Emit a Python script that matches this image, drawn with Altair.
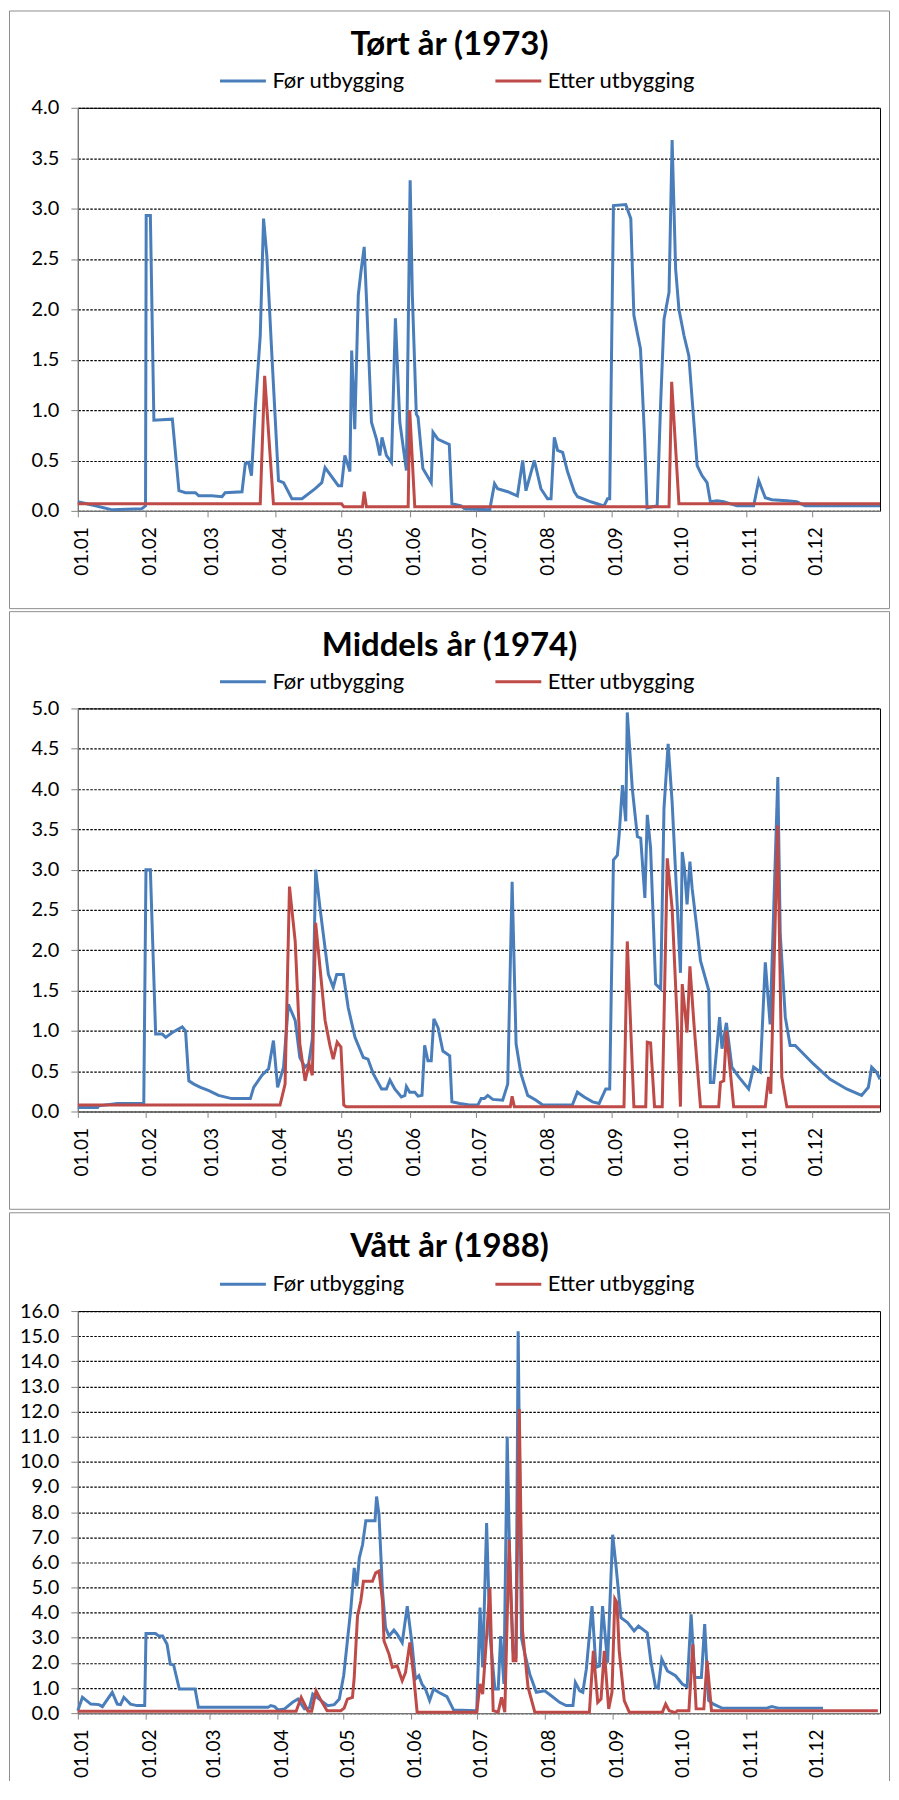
import altair as alt
import pandas as pd
from datetime import datetime, timedelta

BLUE = "#4A7EBB"
RED = "#BE4B48"
SERIES = ["Før utbygging", "Etter utbygging"]
FONT = "Lato"

# ---------------- Panel 1: Tørt år (1973) ----------------
p1_blue_day = [0, 8, 15.7, 29, 30.8, 31.1, 33, 34.6, 43, 46, 49, 53.5, 55, 61, 65.6, 67, 74.7, 76.2, 77.7, 79,
               80.7, 83, 84.5, 86, 88.3, 91.3, 93.6, 97.4, 102, 108, 111, 112.5, 118.5, 120, 121.5, 123.8, 124.6,
               126, 127.6, 128.8, 130.3, 131.4, 133.6, 135.9, 137.4, 138.4, 140.4, 142.7, 144.5, 146.5, 149.5,
               151.2, 152.2, 154, 154.8, 157, 160.8, 161.6, 163.9, 169, 170.2, 174.4, 176, 187.4, 189.6, 191,
               195.6, 200, 202.4, 203.9, 207.7, 210.7, 213.7, 215.3, 216.8, 218.3, 220.6, 222.8, 225.9, 227.4,
               233.4, 239.4, 241, 242, 243.7, 249.3, 251.6, 253, 254.6, 256, 257.9, 259, 263.6, 265.2, 266.7,
               269, 270.4, 272, 273.5, 275.8, 278, 281.8, 284, 286.3, 287.8, 290.9, 293.9, 299.9, 307.5, 309.8,
               312.8, 315.8, 322.6, 327.1, 330.9, 365]
p1_blue_val = [0.09, 0.05, 0.01, 0.02, 0.05, 2.93, 2.93, 0.9, 0.91, 0.2, 0.18, 0.18, 0.15, 0.15, 0.14, 0.18, 0.19,
               0.47, 0.48, 0.35, 1.01, 1.74, 2.9, 2.53, 1.54, 0.3, 0.28, 0.12, 0.12, 0.22, 0.28, 0.43, 0.25, 0.25,
               0.55, 0.39, 1.59, 0.81, 2.14, 2.37, 2.62, 2.07, 0.88, 0.71, 0.55, 0.73, 0.55, 0.48, 1.91, 0.88, 0.4,
               3.28, 2.14, 0.96, 0.93, 0.42, 0.28, 0.78, 0.71, 0.66, 0.07, 0.05, 0.02, 0.01, 0.27, 0.22, 0.19,
               0.15, 0.5, 0.2, 0.5, 0.22, 0.12, 0.12, 0.73, 0.6, 0.58, 0.39, 0.19, 0.14, 0.09, 0.05, 0.12, 0.12,
               3.03, 3.04, 2.9, 1.94, 1.76, 1.61, 0.71, 0.03, 0.05, 1.08, 1.9, 2.17, 3.68, 2.4, 2.0, 1.74, 1.54,
               0.45, 0.35, 0.28, 0.09, 0.1, 0.09, 0.05, 0.05, 0.3, 0.13, 0.11, 0.1, 0.09, 0.05, 0.05]
p1_red_day = [0, 83, 85, 89, 120, 121, 129.5, 130.3, 131.3, 150.3, 151, 153.3, 269, 270.2, 273.5, 365]
p1_red_val = [0.07, 0.07, 1.34, 0.07, 0.07, 0.04, 0.04, 0.19, 0.04, 0.04, 1.0, 0.04, 0.04, 1.28, 0.07, 0.07]

# ---------------- Panel 2: Middels år (1974) ----------------
p2_blue_day = [0, 9, 9.5, 18, 30, 31, 33, 35.4, 38.4, 40, 43, 47.5, 49, 50.5, 52.8, 55.8, 59.6, 64, 70, 78.5, 80,
               83.8, 86.8, 89, 90.9, 93.6, 95.8, 98.9, 101, 103.4, 105, 106.7, 108.2, 110.2, 114, 116.2, 117.8,
               120.8, 123, 126.1, 129.9, 132, 134.4, 138.2, 140.4, 142, 144.2, 147.2, 148.8, 149.5, 151, 153.3,
               154.8, 156.6, 157.8, 159.3, 160.8, 162, 163.9, 166.1, 169.2, 170.2, 173.7, 178.2, 182, 183.5, 185,
               186.5, 188.8, 193.3, 195.6, 197.6, 199.4, 201.6, 204.7, 208.5, 211.5, 225, 227.3, 230.4, 234.2,
               237.2, 240.2, 242, 243.7, 245.5, 246.3, 247.8, 249.3, 250, 252.3, 254.6, 256.1, 258, 259.1, 260.6,
               262.9, 265.2, 266.7, 268.6, 270.4, 272.7, 274.2, 275, 276, 277.2, 278.5, 279.5, 281.8, 283.3,
               287.1, 287.8, 289.3, 292, 293.1, 295.1, 297.6, 300.7, 305.2, 307.5, 310.5, 312.8, 315, 318.5,
               319.6, 321.9, 324.1, 326.4, 334.7, 342.3, 349.8, 356.6, 359.7, 361.2, 363.4, 365]
p2_blue_val = [0.05, 0.05, 0.07, 0.1, 0.1, 3.0, 3.0, 0.96, 0.96, 0.92, 0.98, 1.05, 1.0, 0.38, 0.34, 0.3, 0.26, 0.2,
               0.16, 0.16, 0.3, 0.45, 0.53, 0.88, 0.3, 0.55, 1.33, 1.13, 0.67, 0.55, 0.59, 0.9, 3.0, 2.52, 1.7,
               1.54, 1.7, 1.7, 1.29, 0.92, 0.67, 0.65, 0.47, 0.28, 0.28, 0.39, 0.28, 0.18, 0.2, 0.31, 0.24, 0.24,
               0.19, 0.2, 0.82, 0.63, 0.63, 1.15, 1.04, 0.75, 0.69, 0.12, 0.1, 0.08, 0.08, 0.16, 0.16, 0.2, 0.15,
               0.14, 0.34, 2.85, 0.84, 0.47, 0.2, 0.14, 0.08, 0.08, 0.24, 0.18, 0.12, 0.1, 0.28, 0.28, 3.12, 3.18,
               3.43, 4.05, 3.6, 4.95, 4.0, 3.41, 3.39, 2.65, 3.68, 3.27, 1.58, 1.52, 3.76, 4.56, 3.84, 2.57, 1.72,
               3.22, 3.02, 2.57, 3.1, 2.77, 2.24, 1.87, 1.5, 0.36, 0.36, 1.17, 0.78, 1.1, 0.55, 0.43, 0.28, 0.55,
               0.49, 1.85, 1.08, 4.15, 2.2, 1.17, 0.82, 0.82, 0.59, 0.4, 0.28, 0.2, 0.3, 0.55, 0.49, 0.4]
p2_red_day = [0, 92, 94.3, 96.3, 98.9, 101, 103.4, 105.2, 106.7, 108.2, 110.2, 112.5, 114.7, 116.2, 118, 119.7,
              121, 122, 196.8, 197.6, 198.6, 248.5, 250, 253, 258.4, 259.1, 260.6, 262.4, 265.9, 268.2, 270.4,
              272.7, 274.2, 275, 277.2, 278.5, 280.3, 283.3, 291.6, 292.4, 293.9, 295.1, 298.4, 312.8, 314.3,
              315.3, 318.4, 320.3, 322.6, 365]
p2_red_val = [0.08, 0.08, 0.34, 2.79, 2.11, 0.84, 0.38, 0.59, 0.45, 2.34, 1.78, 1.13, 0.82, 0.65, 0.86, 0.8, 0.08,
              0.06, 0.06, 0.19, 0.06, 0.06, 2.11, 0.06, 0.06, 0.86, 0.85, 0.06, 0.06, 3.14, 2.52, 1.13, 0.06,
              1.58, 0.98, 1.8, 1.1, 0.06, 0.06, 0.36, 0.38, 1.0, 0.06, 0.06, 0.43, 0.22, 3.55, 0.43, 0.06, 0.06]

# ---------------- Panel 3: Vått år (1988) ----------------
p3_blue_day = [0, 2.1, 5.9, 9.7, 11.2, 15.7, 18, 19.5, 21, 24, 27, 30.5, 31.1, 35.4, 36.9, 38.7, 40.7, 42.2, 43.7,
               46.3, 53.5, 55, 86.8, 88, 89.8, 91.3, 94.3, 98, 100.4, 103.4, 105.7, 107.2, 111, 114, 117, 119.3,
               121.3, 124.6, 126.1, 127.3, 128.4, 129.9, 131.4, 135.6, 136.3, 137.4, 139, 140.4, 142, 144.2,
               145.7, 148, 150.3, 152.5, 154, 155.6, 157, 158.6, 160.5, 162.3, 164.6, 168.4, 171.4, 182, 183.5,
               184.7, 186.5, 188, 190.3, 191.8, 192.9, 194.4, 195.9, 197.1, 198.6, 199.9, 200.9, 202.4, 204,
               206.2, 209.2, 213, 216, 219.8, 222.8, 225.9, 227, 229, 230.4, 232, 234.6, 236.4, 238, 239.4, 241.7,
               244, 245.5, 247.8, 250.8, 253.8, 255.8, 259.8, 261.4, 263.6, 264.8, 266.4, 269, 272.7, 275.8, 278,
               279.8, 281.5, 284.5, 286, 287.8, 290, 293.9, 314.3, 316.6, 319.6, 340]
p3_blue_val = [0.1, 0.63, 0.36, 0.34, 0.26, 0.83, 0.36, 0.34, 0.63, 0.36, 0.3, 0.3, 3.17, 3.17, 3.07, 3.07, 2.74,
               1.95, 1.92, 0.96, 0.96, 0.23, 0.23, 0.3, 0.26, 0.13, 0.17, 0.43, 0.56, 0.17, 0.21, 0.76, 0.5, 0.3,
               0.34, 0.56, 1.5, 4.2, 5.78, 5.05, 6.17, 6.7, 7.66, 7.66, 8.62, 7.9, 4.86, 3.4, 3.07, 3.3, 3.14,
               2.81, 4.26, 2.74, 1.36, 1.49, 1.16, 0.96, 0.5, 0.96, 0.83, 0.66, 0.13, 0.1, 4.2, 1.82, 7.56, 3.14,
               0.96, 0.96, 3.07, 1.16, 11.0, 5.78, 2.48, 2.34, 15.2, 3.0, 2.34, 1.55, 0.83, 0.89, 0.69, 0.43, 0.3,
               0.3, 1.22, 0.89, 0.83, 1.75, 4.26, 1.82, 1.88, 4.26, 2.01, 7.1, 5.9, 3.8, 3.6, 3.27, 3.47, 3.2,
               2.08, 1.03, 1.0, 2.15, 1.68, 1.49, 1.16, 1.05, 3.93, 1.42, 1.42, 3.54, 0.5, 0.36, 0.2, 0.2, 0.26,
               0.2, 0.2]
p3_red_day = [0, 99.6, 101.9, 105, 106.7, 108.7, 111, 113.7, 120, 121.5, 123, 125.3, 126.1, 127.6, 129.1, 130.3,
              134.4, 135.9, 137.4, 139, 139.7, 142, 143.5, 145.7, 148, 149.5, 151.5, 153.3, 154.8, 182, 183.5,
              184.7, 188, 189.5, 191.8, 193.3, 194.8, 196.8, 198.6, 199.9, 201.4, 202.9, 205.4, 208.5, 233.4,
              235.2, 237.2, 238.7, 240.2, 242.2, 243.7, 245, 246, 247, 249.3, 251.6, 266.7, 268.2, 269.8, 272.7,
              273.5, 278.8, 280.6, 282.1, 285.6, 287.1, 289.1, 365]
p3_red_val = [0.08, 0.08, 0.63, 0.08, 0.08, 0.89, 0.5, 0.1, 0.1, 0.2, 0.56, 0.63, 1.42, 3.87, 4.46, 5.25, 5.25,
              5.58, 5.65, 4.46, 2.87, 2.34, 1.82, 1.88, 1.29, 1.62, 2.81, 1.42, 0.04, 0.04, 1.16, 0.76, 4.99, 0.1,
              0.04, 0.63, 0.04, 6.9, 2.08, 2.08, 12.1, 3.27, 1.03, 0.04, 0.04, 2.48, 0.43, 0.56, 2.48, 0.17, 0.83,
              4.55, 4.4, 2.48, 0.5, 0.04, 0.04, 0.36, 0.1, 0.02, 0.1, 0.1, 2.74, 0.17, 0.17, 2.08, 0.1, 0.1]

TITLES = ["Tørt år (1973)", "Middels år (1974)", "Vått år (1988)"]
YEARS = [1973, 1974, 1988]
YMAX = [4.0, 5.0, 16.0]
YSTEP = [0.5, 0.5, 1.0]
MONTHS = list(range(1, 13))


def make_df(year, bd, bv, rd, rv):
    rows = []
    base = datetime(year, 1, 1)
    for d, v in zip(bd, bv):
        rows.append({"date": (base + timedelta(days=d)).strftime("%Y-%m-%dT%H:%M:%S"), "value": v, "series": SERIES[0]})
    for d, v in zip(rd, rv):
        rows.append({"date": (base + timedelta(days=d)).strftime("%Y-%m-%dT%H:%M:%S"), "value": v, "series": SERIES[1]})
    return pd.DataFrame(rows)


dfs = [
    make_df(1973, p1_blue_day, p1_blue_val, p1_red_day, p1_red_val),
    make_df(1974, p2_blue_day, p2_blue_val, p2_red_day, p2_red_val),
    make_df(1988, p3_blue_day, p3_blue_val, p3_red_day, p3_red_val),
]

W = 804
HEIGHTS = [404, 404, 403]
# panel frame: top, bottom (None = runs off the page), relative to plot origin
FRAMES = [(-97.0, 502.0), (-97.0, 502.0), (-98.5, None)]
FL, FR = -68.5, 813.5
FRAME_COLOR = "#8e8e8e"


def frame_layers(ftop, fbot):
    one = pd.DataFrame({"k": [0]})
    layers = [
        alt.Chart(one).mark_rule(color=FRAME_COLOR, strokeWidth=1).encode(
            x=alt.value(FL), x2=alt.value(FR), y=alt.value(ftop)),
    ]
    bottom = fbot if fbot is not None else 471.0
    layers.append(alt.Chart(one).mark_rule(color=FRAME_COLOR, strokeWidth=1).encode(
        x=alt.value(FL), y=alt.value(ftop), y2=alt.value(bottom)))
    layers.append(alt.Chart(one).mark_rule(color=FRAME_COLOR, strokeWidth=1).encode(
        x=alt.value(FR), y=alt.value(ftop), y2=alt.value(bottom)))
    if fbot is not None:
        layers.append(alt.Chart(one).mark_rule(color=FRAME_COLOR, strokeWidth=1).encode(
            x=alt.value(FL), x2=alt.value(FR), y=alt.value(fbot)))
    return layers


def panel(i):
    year = YEARS[i]
    ymax = YMAX[i]
    step = YSTEP[i]
    n = int(round(ymax / step))
    yvals = [round(k * step, 2) for k in range(n + 1)]
    xvals = [alt.DateTime(year=year, month=m, date=1) for m in MONTHS]

    x = alt.X("date:T",
              scale=alt.Scale(domain=[alt.DateTime(year=year, month=1, date=1),
                                      alt.DateTime(year=year + 1, month=1, date=1)]),
              axis=alt.Axis(values=xvals, format="%d.%m", labelAngle=270, labelFontSize=19, labelFont=FONT,
                            labelColor="black", labelPadding=10, labelOffset=4, tickSize=6,
                            tickColor="#868686", domainColor="#868686", grid=False, labelFlush=False,
                            labelOverlap=False),
              title=None)
    y = alt.Y("value:Q",
              scale=alt.Scale(domain=[0, ymax], nice=False),
              axis=alt.Axis(values=yvals, format=".1f", labelFontSize=20, labelFont=FONT, labelColor="black",
                            labelPadding=12, tickSize=7, tickColor="#868686", domainColor="#868686",
                            grid=True, gridDash=[2.5, 1.5], gridColor="black", gridWidth=1.2, gridOpacity=1),
              title=None)
    color = alt.Color("series:N", scale=alt.Scale(domain=SERIES, range=[BLUE, RED]),
                      legend=alt.Legend(orient="none", legendX=141, legendY=-51.5, direction="horizontal",
                                        title=None, symbolType="stroke", symbolSize=2116, symbolStrokeWidth=3,
                                        labelFontSize=22, labelFont=FONT, labelColor="black", columnPadding=84,
                                        labelOffset=5, padding=0))
    base = alt.Chart(dfs[i])
    blue = base.transform_filter(alt.datum.series == SERIES[0]).mark_line(strokeWidth=3).encode(x=x, y=y, color=color)
    red = base.transform_filter(alt.datum.series == SERIES[1]).mark_line(strokeWidth=3).encode(x=x, y=y, color=color)

    ftop, fbot = FRAMES[i]
    return alt.layer(*frame_layers(ftop, fbot), blue, red).properties(
        width=W, height=HEIGHTS[i],
        title=alt.TitleParams(TITLES[i], fontSize=33, font=FONT, fontWeight="bold", anchor="middle",
                              frame="bounds", offset=-52, color="black"))


chart = alt.vconcat(panel(0), panel(1), panel(2), spacing=1).resolve_scale(
    color="independent").resolve_legend(color="independent").properties(
    padding={"left": 0, "top": 0, "right": 0, "bottom": 0}
).configure_view(stroke="black", strokeWidth=1)

chart.save("out.html", embed_options={"renderer": "svg", "actions": False})
